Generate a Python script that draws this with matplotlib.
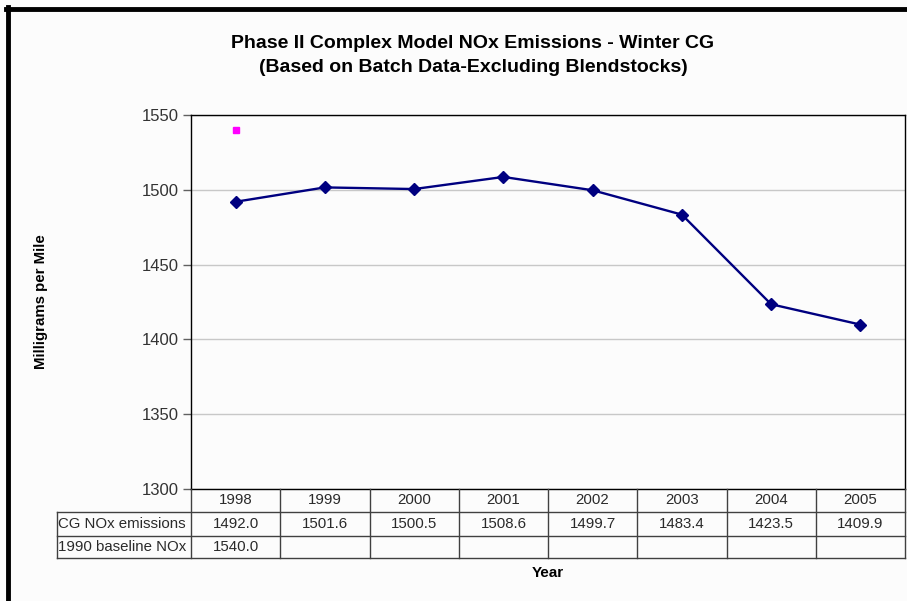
import numpy as np
import matplotlib.pyplot as plt
from matplotlib.lines import Line2D

plt.rcParams['font.family'] = ['Liberation Sans', 'DejaVu Sans']

years = ['1998', '1999', '2000', '2001', '2002', '2003', '2004', '2005']
cg_nox = [1492.0, 1501.6, 1500.5, 1508.6, 1499.7, 1483.4, 1423.5, 1409.9]
baseline = [1540.0]
row_names = ['CG NOx emissions', '1990 baseline NOx']

W, H = 907, 601
fig = plt.figure(figsize=(W / 100, H / 100), dpi=100)
fig.patch.set_facecolor('#fcfcfc')

# pixel helpers (top-left origin)
def fx(px):
    return px / W

def fy(py):
    return 1 - py / H

left, right, top, bottom = 191, 905, 115, 489
ax = fig.add_axes([fx(left), fy(bottom), fx(right) - fx(left), fy(top) - fy(bottom)])
ax.set_facecolor('#fcfcfc')

x = np.arange(len(years))
ax.plot(x, cg_nox, color='#000080', lw=1.7, marker='D', ms=6, zorder=3)
ax.plot(x[:len(baseline)], baseline, ls='none', marker='s', ms=4.5,
        color='#ff00ff', zorder=3)

ax.set_xlim(-0.5, len(years) - 0.5)
ax.set_ylim(1300, 1550)
ax.set_yticks(np.arange(1300, 1551, 50))
ax.set_xticks([])
ax.yaxis.grid(True, color='#c8c8c8', lw=1)
ax.set_axisbelow(True)
for s in ax.spines.values():
    s.set_color('black')
    s.set_linewidth(1)
ax.tick_params(axis='y', length=6, width=1, color='#606060', labelsize=12,
               labelcolor='#333333', pad=3)

# data table under the axis
lc = '#404040'
tc = '#2a2a2a'
col_w = (right - left) / len(years)
r0, r1, r2, r3 = 489, 512, 536, 558
tab_left = 57
lines = []
lines.append(((tab_left, right), (r1, r1)))
lines.append(((tab_left, right), (r2, r2)))
lines.append(((tab_left, right), (r3, r3)))
lines.append(((tab_left, tab_left), (r1, r3)))
for i in range(len(years) + 1):
    xp = left + i * col_w
    lines.append(((xp, xp), (r0, r3)))
for xs, ys in lines:
    fig.add_artist(Line2D([fx(xs[0]), fx(xs[1])], [fy(ys[0]), fy(ys[1])],
                          color=lc, lw=1))

for i, yr in enumerate(years):
    cx = left + (i + 0.5) * col_w
    fig.text(fx(cx), fy((r0 + r1) / 2), yr, ha='center', va='center',
             fontsize=10.8, color=tc)
    fig.text(fx(cx), fy((r1 + r2) / 2), f'{cg_nox[i]:.1f}', ha='center',
             va='center', fontsize=10.8, color=tc)
    if i < len(baseline):
        fig.text(fx(cx), fy((r2 + r3) / 2), f'{baseline[i]:.1f}', ha='center',
                 va='center', fontsize=10.8, color=tc)
fig.text(fx(tab_left + 1), fy((r1 + r2) / 2), row_names[0], ha='left',
         va='center', fontsize=10.8, color=tc)
fig.text(fx(tab_left + 1), fy((r2 + r3) / 2), row_names[1], ha='left',
         va='center', fontsize=10.8, color=tc)

# titles and labels
fig.text(fx(473), fy(43), 'Phase II Complex Model NOx Emissions - Winter CG',
         ha='center', va='center', fontsize=14, fontweight='bold')
fig.text(fx(473), fy(68), '(Based on Batch Data-Excluding Blendstocks)',
         ha='center', va='center', fontsize=14, fontweight='bold')
fig.text(fx(41), fy(302), 'Milligrams per Mile', rotation=90, ha='center',
         va='center', fontsize=10.8, fontweight='bold')
fig.text(fx(548), fy(573), 'Year', ha='center', va='center', fontsize=11,
         fontweight='bold')

# outer frame (left and top edges visible)
fig.add_artist(Line2D([fx(8), fx(8)], [fy(7), 0], color='black', lw=3.5))
fig.add_artist(Line2D([fx(6), 1], [fy(9), fy(9)], color='black', lw=3.5))

fig.savefig('out.png', dpi=100, facecolor=fig.get_facecolor())
